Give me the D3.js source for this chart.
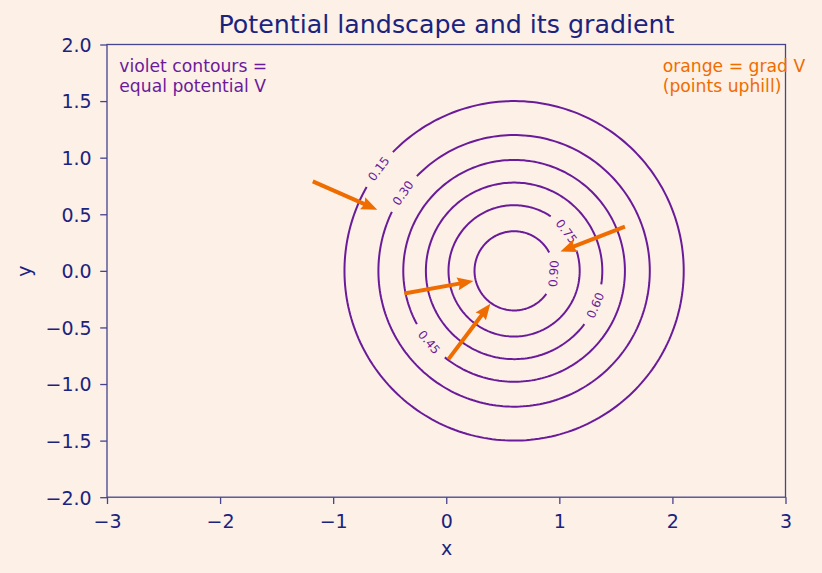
<!DOCTYPE html>
<html><head><meta charset="utf-8">
<script src="https://cdn.jsdelivr.net/npm/d3@7"></script>
<style>body{margin:0;background:#fdf0e6;} svg{display:block;font-family:"DejaVu Sans",sans-serif;}</style>
</head><body><svg id="chart" width="822" height="573"></svg>
<script>
// ---- data ----
const levels = [0.15, 0.30, 0.45, 0.60, 0.75, 0.90];
const contourRadii = [1.50, 1.20, 0.98, 0.78, 0.58, 0.35];
const labelAngles = [143, 145, 220, -23, 37, -4];
const wellCenter = [0.6, 0.0];
const arrowX = [-1.18, 1.58, -0.37, 0.02];
const arrowY = [0.79, 0.39, -0.20, -0.78];
const arrowU = [0.57, -0.57, 0.61, 0.37];
const arrowV = [-0.25, -0.22, 0.11, 0.49];
const xTicks = [-3, -2, -1, 0, 1, 2, 3];
const yTicks = [-2.0, -1.5, -1.0, -0.5, 0.0, 0.5, 1.0, 1.5, 2.0];
const titleText = "Potential landscape and its gradient";
const noteViolet = ["violet contours =", "equal potential V"];
const noteOrange = ["orange = grad V", "(points uphill)"];

// ---- style ----
const bg = "#fdf0e6", ink = "#1a237e", spine = "#44448f";
const violet = "#6a1b9a", orange = "#ef6c00";

const svg = d3.select("#chart");
svg.append("rect").attr("width", 822).attr("height", 573).attr("fill", bg);

const x = d3.scaleLinear().domain([-3, 3]).range([107, 785.5]);
const y = d3.scaleLinear().domain([-2, 2]).range([497.2, 44.5]);
const fmtMinus = s => s.replace("-", "\u2212");

// contours
const g = svg.append("g");
const labelFont = 12;
levels.forEach((lv, i) => {
  const R = contourRadii[i];
  const Rpx = x(R) - x(0);
  const txt = lv.toFixed(2);
  const tw = labelFont * (3 * 0.636 + 0.318);
  const half = ((tw + 17) / 2) / Rpx;
  const a0 = labelAngles[i] * Math.PI / 180;
  const pts = d3.range(0, 241).map(k => {
    const t = a0 + half + (2 * Math.PI - 2 * half) * k / 240;
    return [wellCenter[0] + R * Math.cos(t), wellCenter[1] + R * Math.sin(t)];
  });
  g.append("path")
    .attr("d", d3.line().x(d => x(d[0])).y(d => y(d[1]))(pts))
    .attr("fill", "none").attr("stroke", violet).attr("stroke-width", 2);
  const lx = x(wellCenter[0] + R * Math.cos(a0));
  const ly = y(wellCenter[1] + R * Math.sin(a0));
  let rot = labelAngles[i] - 90;
  while (rot > 90) rot -= 180;
  while (rot <= -90) rot += 180;
  g.append("text").attr("transform", `translate(${lx},${ly}) rotate(${-rot})`)
    .attr("text-anchor", "middle").attr("dy", "0.36em")
    .attr("font-size", labelFont).attr("fill", violet).text(txt);
});

// quiver arrows
const sw = 4, hw = 6.5, hl = 16, ha = 14.5;
arrowX.forEach((ax, i) => {
  const x0 = x(ax), y0 = y(arrowY[i]);
  const x1 = x(ax + arrowU[i]), y1 = y(arrowY[i] + arrowV[i]);
  const L = Math.hypot(x1 - x0, y1 - y0);
  const ang = Math.atan2(y1 - y0, x1 - x0) * 180 / Math.PI;
  const poly = [[0, -sw / 2], [L - ha, -sw / 2], [L - hl, -hw], [L, 0], [L - hl, hw], [L - ha, sw / 2], [0, sw / 2]];
  svg.append("polygon").attr("points", poly.map(p => p.join(",")).join(" "))
    .attr("transform", `translate(${x0},${y0}) rotate(${ang})`)
    .attr("fill", orange);
});

// axes
const xAxis = d3.axisBottom(x).tickValues(xTicks).tickSize(6.8).tickSizeOuter(0)
  .tickFormat(d => fmtMinus(d3.format("d")(d)));
const yAxis = d3.axisLeft(y).tickValues(yTicks).tickSize(6.8).tickSizeOuter(0)
  .tickFormat(d => fmtMinus(d3.format(".1f")(d)));
const gx = svg.append("g").attr("transform", "translate(0,497.2)").call(xAxis);
const gy = svg.append("g").attr("transform", "translate(107,0)").call(yAxis);
[gx, gy].forEach(a => {
  a.select(".domain").remove();
  a.selectAll("line").attr("stroke", spine).attr("stroke-width", 1.3);
  a.selectAll("text").attr("fill", ink).attr("font-size", 19).attr("font-family", "DejaVu Sans");
});
gx.selectAll("text").attr("y", 31).attr("dy", 0);
gy.selectAll("text").attr("x", -15.3).attr("dy", "0.36em");

svg.append("rect").attr("x", 107).attr("y", 44.5).attr("width", 785.5 - 107).attr("height", 497.2 - 44.5)
  .attr("fill", "none").attr("stroke", spine).attr("stroke-width", 1.3);

// labels
svg.append("text").attr("x", 446.5).attr("y", 33).attr("text-anchor", "middle")
  .attr("font-size", 25.3).attr("fill", ink).text(titleText);
svg.append("text").attr("x", 446.5).attr("y", 555).attr("text-anchor", "middle")
  .attr("font-size", 19).attr("fill", ink).text("x");
svg.append("text").attr("transform", "translate(31,271) rotate(-90)").attr("text-anchor", "middle")
  .attr("font-size", 19).attr("fill", ink).text("y");

noteViolet.forEach((t, i) => svg.append("text").attr("x", 119.3).attr("y", 71.5 + 20 * i)
  .attr("font-size", 17.2).attr("fill", violet).text(t));
noteOrange.forEach((t, i) => svg.append("text").attr("x", 662.7).attr("y", 71.5 + 20 * i)
  .attr("font-size", 17.2).attr("fill", orange).text(t));
</script></body></html>
